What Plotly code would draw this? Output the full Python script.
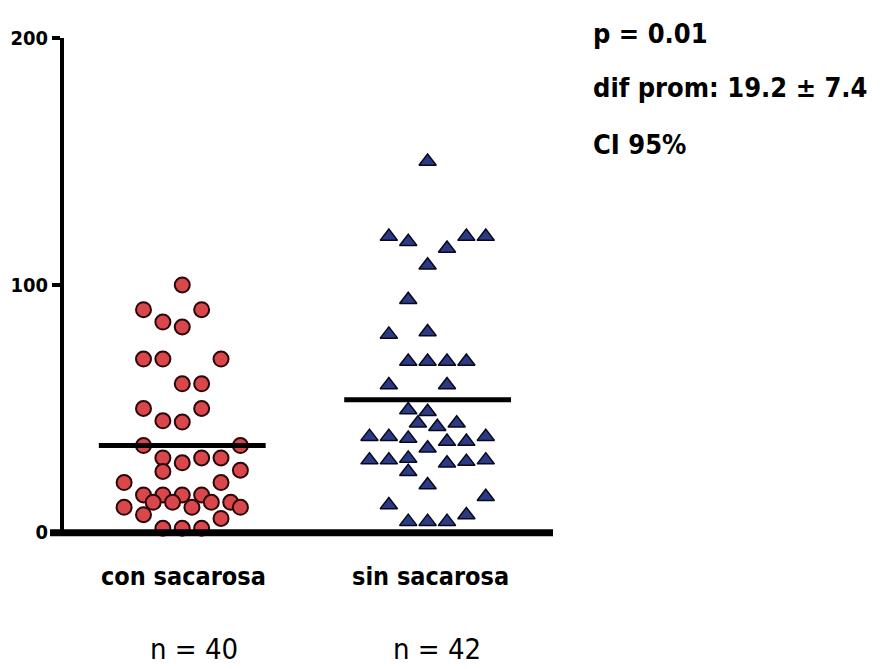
import plotly.graph_objects as go

# ---------------- data ----------------
categories = ["con sacarosa", "sin sacarosa"]
n_labels = ["n = 40", "n = 42"]

con_values = [100, 90, 90, 85, 83, 70, 70, 70, 60, 60, 50, 50, 45, 44.5, 35, 35,
              30, 28, 30, 30, 24.5, 25, 20, 20, 15, 15, 15, 15, 12, 12, 10, 12,
              12, 10, 10, 7, 5.5, 1.5, 1.5, 1.5]
# horizontal jitter slots (half-marker steps) of the scatter-dot arrangement
con_slots = [0, -4, 2, -2, 0, -4, -2, 4, 0, 2, -4, 2, -2, 0, -4, 6,
             -2, 0, 2, 4, -2, 6, 4, -6, -4, -2, 0, 2, -3, -1, 1, 3,
             5, 6, -6, -4, 4, -2, 0, 2]

sin_values = [150, 119.6, 117.5, 119.6, 119.6, 114.8, 108, 94, 80, 81,
              69, 69, 69, 69, 59.5, 59.5, 49.4, 48.7, 44, 42.6, 44,
              38.6, 38.6, 37.9, 36.6, 36.6, 38.6, 33.9, 29.1, 29.1, 29.8,
              27.8, 28.5, 29.1, 24.4, 19, 14.3, 10.9, 6.9, 4.2, 4.2, 4.2]
sin_slots = [0, -4, -2, 4, 6, 2, 0, -2, -4, 0,
             -2, 0, 2, 4, -4, 2, -2, 0, -1, 1, 3,
             -6, -4, -2, 2, 4, 6, 0, -6, -4, -2,
             2, 4, 6, -2, 0, 6, -4, 4, -2, 0, 2]

stats_lines = ["p = 0.01", "dif prom: 19.2 \u00b1 7.4", "CI 95%"]
y_ticks = [0, 100, 200]

# ---------------- layout helpers ----------------
OFF = 8                      # page body margin of the html page
W, H = 883 - OFF, 669 - OFF  # figure size so that it fits in the window
L, R, T, B = 56, 330, 30, 137
PW, PH = W - L - R, H - T - B
X_RANGE = [0.518, 2.511]
Y_RANGE = [0, 200]
SLOT = 0.0395   # x-units per half-marker step
MEAN_HALF = 0.34

def px_x(px):   # reference pixel -> paper
    return (px - OFF - L) / PW

def px_y(py):
    return (H - B - (py - OFF)) / PH

NARROW = "DejaVu Sans Condensed, Liberation Sans Narrow, Arial Narrow, sans-serif"

def cond(t):
    return '<span style="font-stretch:condensed">' + t + '</span>'

con_mean = sum(con_values) / len(con_values)
sin_mean = sum(sin_values) / len(sin_values)

fig = go.Figure()

fig.add_trace(go.Scatter(
    x=[1 + s * SLOT for s in con_slots], y=con_values, mode="markers",
    marker=dict(symbol="circle", size=15, color="#d9464b",
                line=dict(color="#2a0808", width=2)),
    cliponaxis=False, showlegend=False, hoverinfo="y"))

fig.add_trace(go.Scatter(
    x=[2 + s * SLOT for s in sin_slots], y=sin_values, mode="markers",
    marker=dict(symbol="triangle-up", size=15, color="#2b3a85",
                line=dict(color="#08081a", width=1.5)),
    cliponaxis=False, showlegend=False, hoverinfo="y"))

for cx, m in [(1, con_mean), (2, sin_mean)]:
    fig.add_trace(go.Scatter(
        x=[cx - MEAN_HALF, cx + MEAN_HALF], y=[m, m], mode="lines",
        line=dict(color="black", width=5), showlegend=False, hoverinfo="skip"))

annotations = []
for (cx_px, label) in zip([183, 430], categories):
    annotations.append(dict(x=px_x(cx_px), y=px_y(576), xref="paper", yref="paper",
                            text=cond(label), showarrow=False, xanchor="center", yanchor="middle",
                            font=dict(family=NARROW, size=25, color="black", weight="bold")))
for (cx_px, label) in zip([194, 437], n_labels):
    annotations.append(dict(x=px_x(cx_px), y=px_y(668), xref="paper", yref="paper",
                            text=cond(label), showarrow=False, xanchor="center", yanchor="bottom",
                            font=dict(family=NARROW, size=29, color="black")))
for (cy_px, line) in zip([33, 88, 144], stats_lines):
    annotations.append(dict(x=px_x(591), y=px_y(cy_px), xref="paper", yref="paper",
                            text=cond(line), showarrow=False, xanchor="left", yanchor="middle",
                            font=dict(family=NARROW, size=27, color="black", weight="bold")))

# x axis baseline drawn over the markers, reaching left past the y axis
shapes = [dict(type="line", xref="paper", yref="paper", x0=px_x(50), x1=px_x(553),
               y0=px_y(532.7), y1=px_y(532.7), line=dict(color="black", width=7),
               layer="above")]

fig.update_layout(
    width=W, height=H,
    margin=dict(l=L, r=R, t=T, b=B, autoexpand=False),
    paper_bgcolor="white", plot_bgcolor="white",
    annotations=annotations, shapes=shapes,
    xaxis=dict(range=X_RANGE, showgrid=False, zeroline=False, showline=False,
               showticklabels=False, ticks="", automargin=False),
    yaxis=dict(range=Y_RANGE, tickvals=y_ticks, showgrid=False, zeroline=False,
               showline=True, linecolor="black", linewidth=4, ticks="outside",
               ticklen=8, tickwidth=4, tickcolor="black", automargin=False,
               tickfont=dict(family=NARROW, size=20, color="black", weight="bold")),
)

fig.write_html("out.html")
